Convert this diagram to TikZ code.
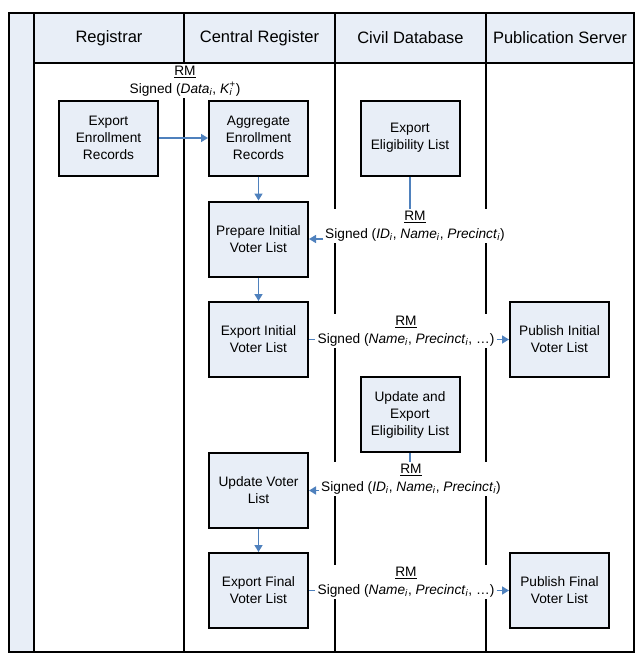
\documentclass[tikz,border=0pt]{standalone}
\usepackage{fontspec}
\setmainfont{Liberation Sans}
\usetikzlibrary{arrows.meta}
\definecolor{laneblue}{RGB}{232,238,247}
\definecolor{flowblue}{RGB}{79,129,189}
\newcommand\isub{\textsubscript{\textit{i}}}

\begin{document}
\begin{tikzpicture}[x=1pt,y=-1pt,
  stepbox/.style={draw,line width=2pt,fill=laneblue,minimum width=99pt,minimum height=75pt,
    align=center,inner sep=2pt,font=\fontsize{13.7}{17}\selectfont},
  msg/.style={fill=white,align=center,inner sep=2pt,font=\fontsize{13.7}{17.5}\selectfont},
  head/.style={font=\fontsize{16.5}{19}\selectfont},
  flow/.style={draw=flowblue,line width=1.6pt,-{Triangle[length=7pt,width=8pt]}},
  flowline/.style={draw=flowblue,line width=1.6pt}]
\useasboundingbox (0,0) rectangle (643,661);
\fill[laneblue](9,13) rectangle (34,652);
\fill[laneblue](34,13) rectangle (634,63);
\draw[line width=1.6pt](184,13)--(184,652);
\draw[line width=1.6pt](335,13)--(335,652);
\draw[line width=1.6pt](486,13)--(486,652);
\draw[line width=2pt](34,13)--(34,652);
\draw[line width=2pt](34,63)--(634,63);
\draw[line width=2pt](9,13) rectangle (634,652);

\node[head] (hreg) at (109,38) {Registrar};
\node[head] (hcen) at (259.5,38) {Central Register};
\node[head] (hciv) at (410.5,38) {Civil Database};
\node[head] (hpub) at (560,38) {Publication Server};

\node[stepbox] (expenr) at (108.5,138) {Export\\Enrollment\\Records};
\node[stepbox] (aggr) at (258.5,138) {Aggregate\\Enrollment\\Records};
\node[stepbox] (expelig) at (410,138) {Export\\Eligibility List};
\node[stepbox] (prep) at (258.5,239) {Prepare Initial\\Voter List};
\node[stepbox] (expinit) at (258.5,339.5) {Export Initial\\Voter List};
\node[stepbox] (pubinit) at (559.5,339.5) {Publish Initial\\Voter List};
\node[stepbox] (updelig) at (410,414.5) {Update and\\Export\\Eligibility List};
\node[stepbox] (updvoter) at (258.5,490.5) {Update Voter\\List};
\node[stepbox] (expfinal) at (258.5,590.5) {Export Final\\Voter List};
\node[stepbox] (pubfinal) at (559.5,590.5) {Publish Final\\Voter List};

\node[msg] (msg1) at (185,81) {\underline{RM}\\Signed (\textit{Data}\isub, \textit{K}\rlap{\isub}\textsuperscript{+})};
\node[msg] (msg2) at (415,226) {\underline{RM}\\Signed (\textit{ID}\isub, \textit{Name}\isub, \textit{Precinct}\isub)};
\node[msg] (msg3) at (406,331) {\underline{RM}\\Signed (\textit{Name}\isub, \textit{Precinct}\isub, …)};
\node[msg] (msg4) at (411,479) {\underline{RM}\\Signed (\textit{ID}\isub, \textit{Name}\isub, \textit{Precinct}\isub)};
\node[msg] (msg5) at (406,582) {\underline{RM}\\Signed (\textit{Name}\isub, \textit{Precinct}\isub, …)};

\draw[flow](expenr)--(aggr);
\draw[flow](aggr)--(prep);
\draw[flow](prep)--(expinit);
\draw[flow](updvoter)--(expfinal);
\draw[flowline](expelig.south)--(expelig.south |- msg2.north);
\draw[flow](msg2.west |- prep.east)--(prep.east);
\draw[flowline](expinit.east)--(expinit.east -| msg3.west);
\draw[flow](expinit.east -| msg3.east)--(pubinit.west);
\draw[flowline](updelig.south)--(updelig.south |- msg4.north);
\draw[flow](msg4.west |- updvoter.east)--(updvoter.east);
\draw[flowline](expfinal.east)--(expfinal.east -| msg5.west);
\draw[flow](expfinal.east -| msg5.east)--(pubfinal.west);
\end{tikzpicture}
\end{document}
